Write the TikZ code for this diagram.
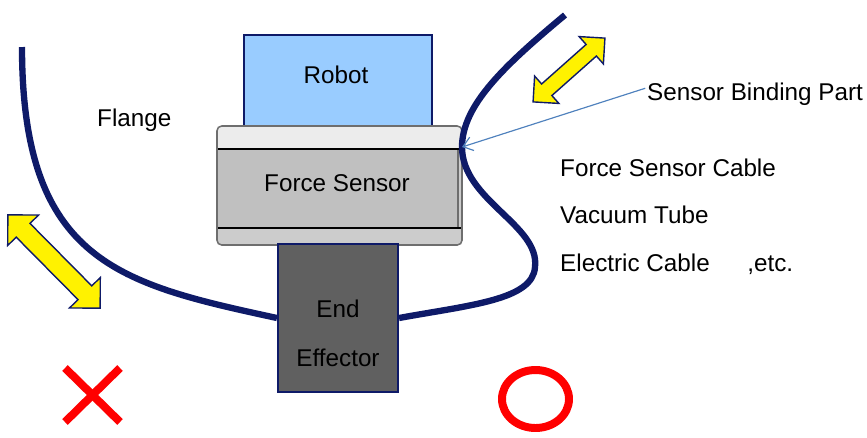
\documentclass[tikz,border=0pt]{standalone}
\usepackage{fontspec}
\setmainfont{Liberation Sans}
\usetikzlibrary{shapes.arrows,arrows.meta}
\definecolor{navy}{RGB}{14,26,104}
\definecolor{robotblue}{RGB}{153,204,255}
\definecolor{toplight}{RGB}{236,236,236}
\definecolor{midgray}{RGB}{192,192,192}
\definecolor{botgray}{RGB}{204,204,204}
\definecolor{framegray}{RGB}{110,110,110}
\definecolor{eegray}{RGB}{96,96,96}
\definecolor{pointerblue}{RGB}{79,129,189}
\definecolor{markred}{RGB}{255,0,0}
\begin{document}
\begin{tikzpicture}[x=0.03cm,y=-0.03cm,
  txt/.style={font=\fontsize{20.7pt}{24pt}\selectfont, inner sep=0pt, text height=0.72em, text depth=0pt, yshift=-3.8pt},
  cable/.style={draw=navy, line width=5.4pt},
  yarrow/.style={double arrow, draw=navy, fill=yellow, line width=1.2pt, inner xsep=0pt, double arrow tip angle=90},
  boxnode/.style={draw=navy, line width=1.8pt, inner sep=0pt},
  pointer/.style={draw=pointerblue, line width=1pt, -{Straight Barb[length=8pt,width=12pt]}},
  redmark/.style={draw=markred, line width=6.8pt}]
\useasboundingbox (0,0) rectangle (867,437);

% Robot
\node[boxnode, fill=robotblue, minimum width=160.5pt, minimum height=78.5pt] (robot) at (338,81) {};
\node[txt] (robotlbl) at (336,75) {Robot};

% Force sensor
\begin{scope}
  \clip[rounded corners=4pt] (217,126) rectangle (462,245);
  \fill[botgray] (217,126) rectangle (462,245);
  \fill[toplight] (217,126) rectangle (462,149);
  \fill[midgray] (217,149) rectangle (458,228);
\end{scope}
\draw[framegray, line width=1pt] (458,149) -- (458,228);
\draw[black, line width=1.3pt] (217,149) -- (462,149);
\draw[black, line width=1.8pt] (217,228) -- (462,228);
\draw[framegray, line width=1.3pt, rounded corners=4pt] (217,126) rectangle (462,245);
\node[txt] (fslbl) at (337,183) {Force Sensor};

% End effector
\node[boxnode, fill=eegray, minimum width=102.4pt, minimum height=126.3pt] (ee) at (338,318) {};
\node[txt] (endlbl) at (338,309) {End};
\node[txt] (efflbl) at (338,358) {Effector};

% Cables
\coordinate (ltop) at (22,47);
\coordinate (rtop) at (565,15);
\coordinate (bind) at (462,147);
\coordinate (bulge) at (535,267);
\draw[cable] (ltop) .. controls (22,262) and (120,284) .. (ee.west);
\draw[cable] (rtop) .. controls (505,65) and (462,105) .. (bind)
  .. controls (462,200) and (540,225) .. (bulge)
  .. controls (533,300) and (470,305) .. (ee.east);

% Yellow double arrows
\node[yarrow, inner ysep=7.7pt, double arrow head extend=10.2pt, minimum height=112pt, rotate=-45.3] (larrow) at (54,261.5) {};
\node[yarrow, inner ysep=6pt, double arrow head extend=9pt, minimum height=82pt, rotate=41.6] (rarrow) at (569,70) {};

% Labels
\node[txt, anchor=west] (flange) at (97,118) {Flange};
\node[txt, anchor=west] (sbp) at (647,92) {Sensor Binding Part};
\node[txt, anchor=west] (fsc) at (560,168) {Force Sensor Cable};
\node[txt, anchor=west] (vt) at (560,215) {Vacuum Tube};
\node[txt, anchor=west] (ec) at (560,263) {Electric Cable\hspace{32pt},etc.};
\draw[pointer] ([xshift=-1.5pt,yshift=7pt]sbp.west) -- (bind);

% Marks
\draw[redmark] (65,368) -- (120,422);
\draw[redmark] (120,368) -- (65,422);
\draw[redmark] (535.5,399) ellipse [x radius=33.5, y radius=29];
\end{tikzpicture}
\end{document}
